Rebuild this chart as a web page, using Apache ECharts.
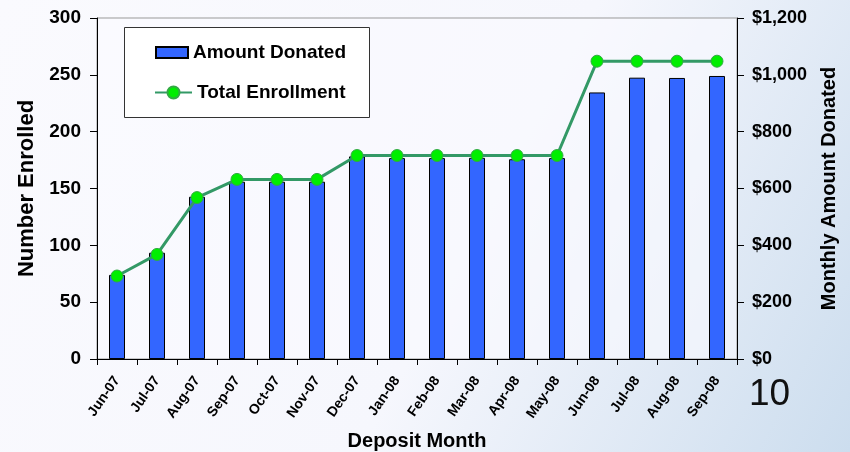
<!DOCTYPE html>
<html>
<head>
<meta charset="utf-8">
<script src="https://cdn.jsdelivr.net/npm/echarts@6/dist/echarts.min.js"></script>
<style>
html,body{margin:0;padding:0;}
#chart{width:850px;height:452px;}
</style>
</head>
<body>
<div id="chart"></div>
<script>
const months = ["Jun-07","Jul-07","Aug-07","Sep-07","Oct-07","Nov-07","Dec-07","Jan-08","Feb-08","Mar-08","Apr-08","May-08","Jun-08","Jul-08","Aug-08","Sep-08"];
const amountDonated = [296, 374, 571, 624, 624, 624, 713, 707, 707, 708, 703, 707, 938, 990, 989, 996];
const totalEnrollment = [73, 92, 142, 158, 158, 158, 179, 179, 179, 179, 179, 179, 262, 262, 262, 262];
const leftTicks = {min: 0, max: 300, interval: 50};
const rightTicks = {min: 0, max: 1200, interval: 200};

const FONT = "Liberation Sans";
const chart = echarts.init(document.getElementById('chart'), null, {renderer: 'canvas'});

const option = {
  backgroundColor: {
    type: 'linear', x: 0, y: 0, x2: 1, y2: 1,
    colorStops: [
      {offset: 0, color: '#FAFAFE'},
      {offset: 0.55, color: '#F6F7FD'},
      {offset: 1, color: '#CCDDEE'}
    ]
  },
  textStyle: {fontFamily: FONT},
  grid: {
    left: 97, right: 113, top: 18, bottom: 93,
    containLabel: false, outerBoundsMode: 'none',
    show: true, backgroundColor: 'rgba(250,250,255,0.6)', borderColor: '#999999', borderWidth: 1
  },
  graphic: [
    {type: 'rect', left: 124, top: 27, z: 5,
     shape: {width: 245, height: 90},
     style: {fill: '#FFFFFF', stroke: '#333333', lineWidth: 1}},
    {type: 'text', left: 749, top: 376, z: 5,
     style: {text: '10', font: 'normal 37px "Liberation Sans"', fill: '#111111'}}
  ],
  legend: [
    {data: ['Amount Donated'], left: 150, top: 38, z: 10,
     itemWidth: 32, itemHeight: 11, icon: 'rect',
     textStyle: {fontFamily: FONT, fontWeight: 'bold', fontSize: 19, color: '#000'}},
    {data: ['Total Enrollment'], left: 149, top: 78, z: 10,
     itemWidth: 37, itemHeight: 15,
     textStyle: {fontFamily: FONT, fontWeight: 'bold', fontSize: 19, color: '#000'}}
  ],
  xAxis: {
    type: 'category',
    data: months,
    boundaryGap: true,
    name: 'Deposit Month',
    nameLocation: 'middle',
    nameGap: 72,
    nameTextStyle: {fontFamily: FONT, fontWeight: 'bold', fontSize: 20, color: '#000'},
    axisLine: {lineStyle: {color: '#000', width: 1}},
    axisTick: {show: true, length: 6, alignWithLabel: false, lineStyle: {color: '#000'}},
    axisLabel: {rotate: 55, interval: 0, margin: 19, fontFamily: FONT, fontWeight: 'bold', fontSize: 14, color: '#000'}
  },
  yAxis: [
    {
      type: 'value', position: 'left',
      min: leftTicks.min, max: leftTicks.max, interval: leftTicks.interval,
      name: 'Number Enrolled', nameLocation: 'middle', nameRotate: 90, nameGap: 56,
      nameTextStyle: {fontFamily: FONT, fontWeight: 'bold', fontSize: 22, color: '#000'},
      axisLine: {show: true, lineStyle: {color: '#000'}},
      axisTick: {show: true, length: 7, lineStyle: {color: '#000'}},
      splitLine: {show: false},
      axisLabel: {margin: 16, fontFamily: FONT, fontWeight: 'bold', fontSize: 19, color: '#000'}
    },
    {
      type: 'value', position: 'right',
      min: rightTicks.min, max: rightTicks.max, interval: rightTicks.interval,
      name: 'Monthly Amount Donated', nameLocation: 'middle', nameRotate: 90, nameGap: 82,
      nameTextStyle: {fontFamily: FONT, fontWeight: 'bold', fontSize: 20, color: '#000'},
      axisLine: {show: true, lineStyle: {color: '#000'}},
      axisTick: {show: true, length: 7, lineStyle: {color: '#000'}},
      splitLine: {show: false},
      axisLabel: {
        margin: 15, fontFamily: FONT, fontWeight: 'bold', fontSize: 18, color: '#000',
        formatter: v => '$' + v.toLocaleString('en-US')
      }
    }
  ],
  series: [
    {
      name: 'Amount Donated', type: 'bar', yAxisIndex: 1,
      data: amountDonated, barWidth: 16,
      itemStyle: {color: '#3366FF', borderColor: '#000', borderWidth: 1}
    },
    {
      name: 'Total Enrollment', type: 'line', yAxisIndex: 0,
      data: totalEnrollment,
      symbol: 'circle', symbolSize: 12,
      lineStyle: {color: '#339966', width: 3},
      itemStyle: {color: '#00EE00', borderColor: '#33AA44', borderWidth: 1}
    }
  ]
};
chart.setOption(option);
</script>
</body>
</html>
